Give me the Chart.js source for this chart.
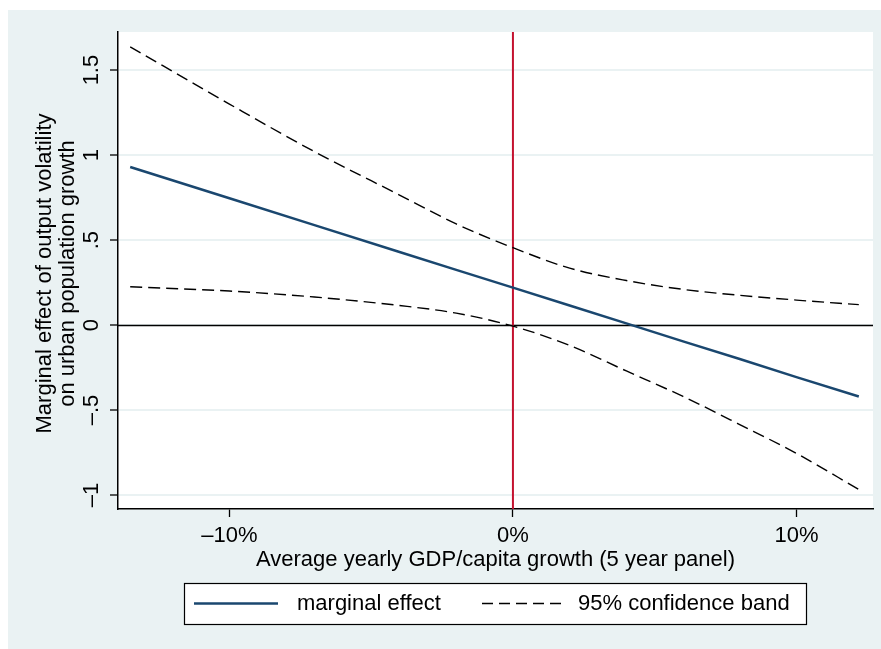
<!DOCTYPE html>
<html>
<head>
<meta charset="utf-8">
<script src="https://cdn.jsdelivr.net/npm/chart.js@4.4.1/dist/chart.umd.min.js"></script>
<style>
  html, body { margin: 0; padding: 0; background: #fff; }
  canvas { display: block; }
</style>
</head>
<body>
<canvas id="c" width="881" height="649"></canvas>
<script>
// growth in percent
const growth = [-13.5, -10, -7, -4, -2, 0, 2, 4, 6, 8, 10, 12.2];
const marginal = [0.93, 0.746, 0.588, 0.43, 0.325, 0.22, 0.115, 0.01, -0.096, -0.2, -0.306, -0.42];
const upperBand = [1.637, 1.30, 1.02, 0.765, 0.595, 0.455, 0.335, 0.262, 0.21, 0.175, 0.147, 0.12];
const lowerBand = [0.225, 0.20, 0.165, 0.115, 0.07, -0.006, -0.12, -0.27, -0.42, -0.585, -0.755, -0.967];

const xTicks = [-10, 0, 10];
const xTickLabels = ['–10%', '0%', '10%'];
const yTicks = [-1, -0.5, 0, 0.5, 1, 1.5];
const yTickLabels = ['–1', '–.5', '0', '.5', '1', '1.5'];

const xTitle = 'Average yearly GDP/capita growth (5 year panel)';
const yTitle = ['Marginal effect of output volatility', 'on urban population growth'];

const NAVY = '#1a476f';
const BG = '#eaf2f3';
const FONT = '22px "Liberation Sans", Arial, Helvetica, sans-serif';

const toPts = ys => growth.map((g, i) => ({ x: g, y: ys[i] }));

const stataFrame = {
  id: 'stataFrame',
  beforeDraw(chart) {
    const { ctx, chartArea: a } = chart;
    ctx.save();
    ctx.fillStyle = '#fff';
    ctx.fillRect(0, 0, chart.width, chart.height);
    ctx.fillStyle = BG;
    ctx.fillRect(8, 10, chart.width - 8, chart.height - 10);
    ctx.fillStyle = '#fff';
    ctx.fillRect(a.left, a.top, a.right - a.left, a.bottom - a.top);
    ctx.restore();
  },
  beforeDatasetsDraw(chart) {
    const { ctx, chartArea: a, scales: { x, y } } = chart;
    ctx.save();
    // horizontal reference at 0
    const y0 = Math.round(y.getPixelForValue(0)) + 0.5;
    ctx.strokeStyle = '#000';
    ctx.lineWidth = 1.3;
    ctx.beginPath();
    ctx.moveTo(a.left, y0);
    ctx.lineTo(a.right, y0);
    ctx.stroke();
    // vertical reference at 0%
    const x0 = x.getPixelForValue(0);
    ctx.strokeStyle = '#c4122f';
    ctx.lineWidth = 2;
    ctx.beginPath();
    ctx.moveTo(x0, a.top);
    ctx.lineTo(x0, a.bottom);
    ctx.stroke();
    ctx.restore();
  },
  afterDraw(chart) {
    const { ctx, scales: { x, y } } = chart;
    ctx.save();
    ctx.font = FONT;
    ctx.fillStyle = '#000';
    ctx.textAlign = 'center';
    ctx.textBaseline = 'middle';

    xTicks.forEach((v, i) => ctx.fillText(xTickLabels[i], x.getPixelForValue(v), 536));
    ctx.fillText(xTitle, (chart.chartArea.left + chart.chartArea.right) / 2, 560);

    yTicks.forEach((v, i) => {
      ctx.save();
      ctx.translate(92, y.getPixelForValue(v));
      ctx.rotate(-Math.PI / 2);
      ctx.fillText(yTickLabels[i], 0, 0);
      ctx.restore();
    });

    const cy = (chart.chartArea.top + chart.chartArea.bottom) / 2 + 3;
    [45, 68].forEach((px, i) => {
      ctx.save();
      ctx.translate(px, cy);
      ctx.rotate(-Math.PI / 2);
      ctx.fillText(yTitle[i], 0, 0);
      ctx.restore();
    });

    // legend
    ctx.fillStyle = '#fff';
    ctx.fillRect(184, 583, 622, 41);
    ctx.strokeStyle = '#000';
    ctx.lineWidth = 1.2;
    ctx.strokeRect(184.5, 583.5, 622, 41);
    const ly = 603.5;
    const ds = chart.data.datasets;
    ctx.strokeStyle = ds[0].borderColor;
    ctx.lineWidth = ds[0].borderWidth;
    ctx.beginPath(); ctx.moveTo(194, ly); ctx.lineTo(278, ly); ctx.stroke();
    ctx.strokeStyle = ds[1].borderColor;
    ctx.lineWidth = ds[1].borderWidth;
    ctx.setLineDash([11, 6]);
    ctx.beginPath(); ctx.moveTo(482, ly); ctx.lineTo(564, ly); ctx.stroke();
    ctx.setLineDash([]);
    ctx.fillStyle = '#000';
    ctx.textAlign = 'left';
    ctx.fillText(ds[0].label, 297, ly);
    ctx.fillText(ds[1].label, 578, ly);
    ctx.restore();
  }
};

new Chart(document.getElementById('c'), {
  type: 'line',
  data: {
    datasets: [
      {
        label: 'marginal effect',
        data: toPts(marginal),
        borderColor: NAVY,
        borderWidth: 2.5,
        pointRadius: 0,
        tension: 0,
      },
      {
        label: '95% confidence band',
        data: toPts(upperBand),
        borderColor: '#000',
        borderWidth: 1.4,
        borderDash: [12, 6],
        pointRadius: 0,
        cubicInterpolationMode: 'monotone',
      },
      {
        label: '95% confidence band (lower)',
        data: toPts(lowerBand),
        borderColor: '#000',
        borderWidth: 1.4,
        borderDash: [12, 6],
        pointRadius: 0,
        cubicInterpolationMode: 'monotone',
      },
    ],
  },
  options: {
    responsive: false,
    animation: false,
    devicePixelRatio: 1,
    layout: { padding: { left: 0, top: 32, right: 8, bottom: 0 } },
    plugins: { legend: { display: false }, tooltip: { enabled: false } },
    scales: {
      x: {
        type: 'linear',
        min: -13.93,
        max: 12.7,
        afterBuildTicks: s => { s.ticks = xTicks.map(v => ({ value: v })); },
        afterFit: s => { s.height = 140; },
        ticks: { display: false },
        grid: { color: 'rgba(0,0,0,0)', tickColor: '#000', tickLength: 8, tickWidth: 1.3 },
        border: { color: '#000', width: 1.5 },
      },
      y: {
        type: 'linear',
        min: -1.082,
        max: 1.724,
        afterBuildTicks: s => { s.ticks = yTicks.map(v => ({ value: v })); },
        afterFit: s => { s.width = 118; },
        ticks: { display: false },
        grid: { color: BG, lineWidth: 2, tickColor: '#000', tickLength: 8, tickWidth: 1.3 },
        border: { color: '#000', width: 1.5 },
      },
    },
  },
  plugins: [stataFrame],
});
</script>
</body>
</html>
